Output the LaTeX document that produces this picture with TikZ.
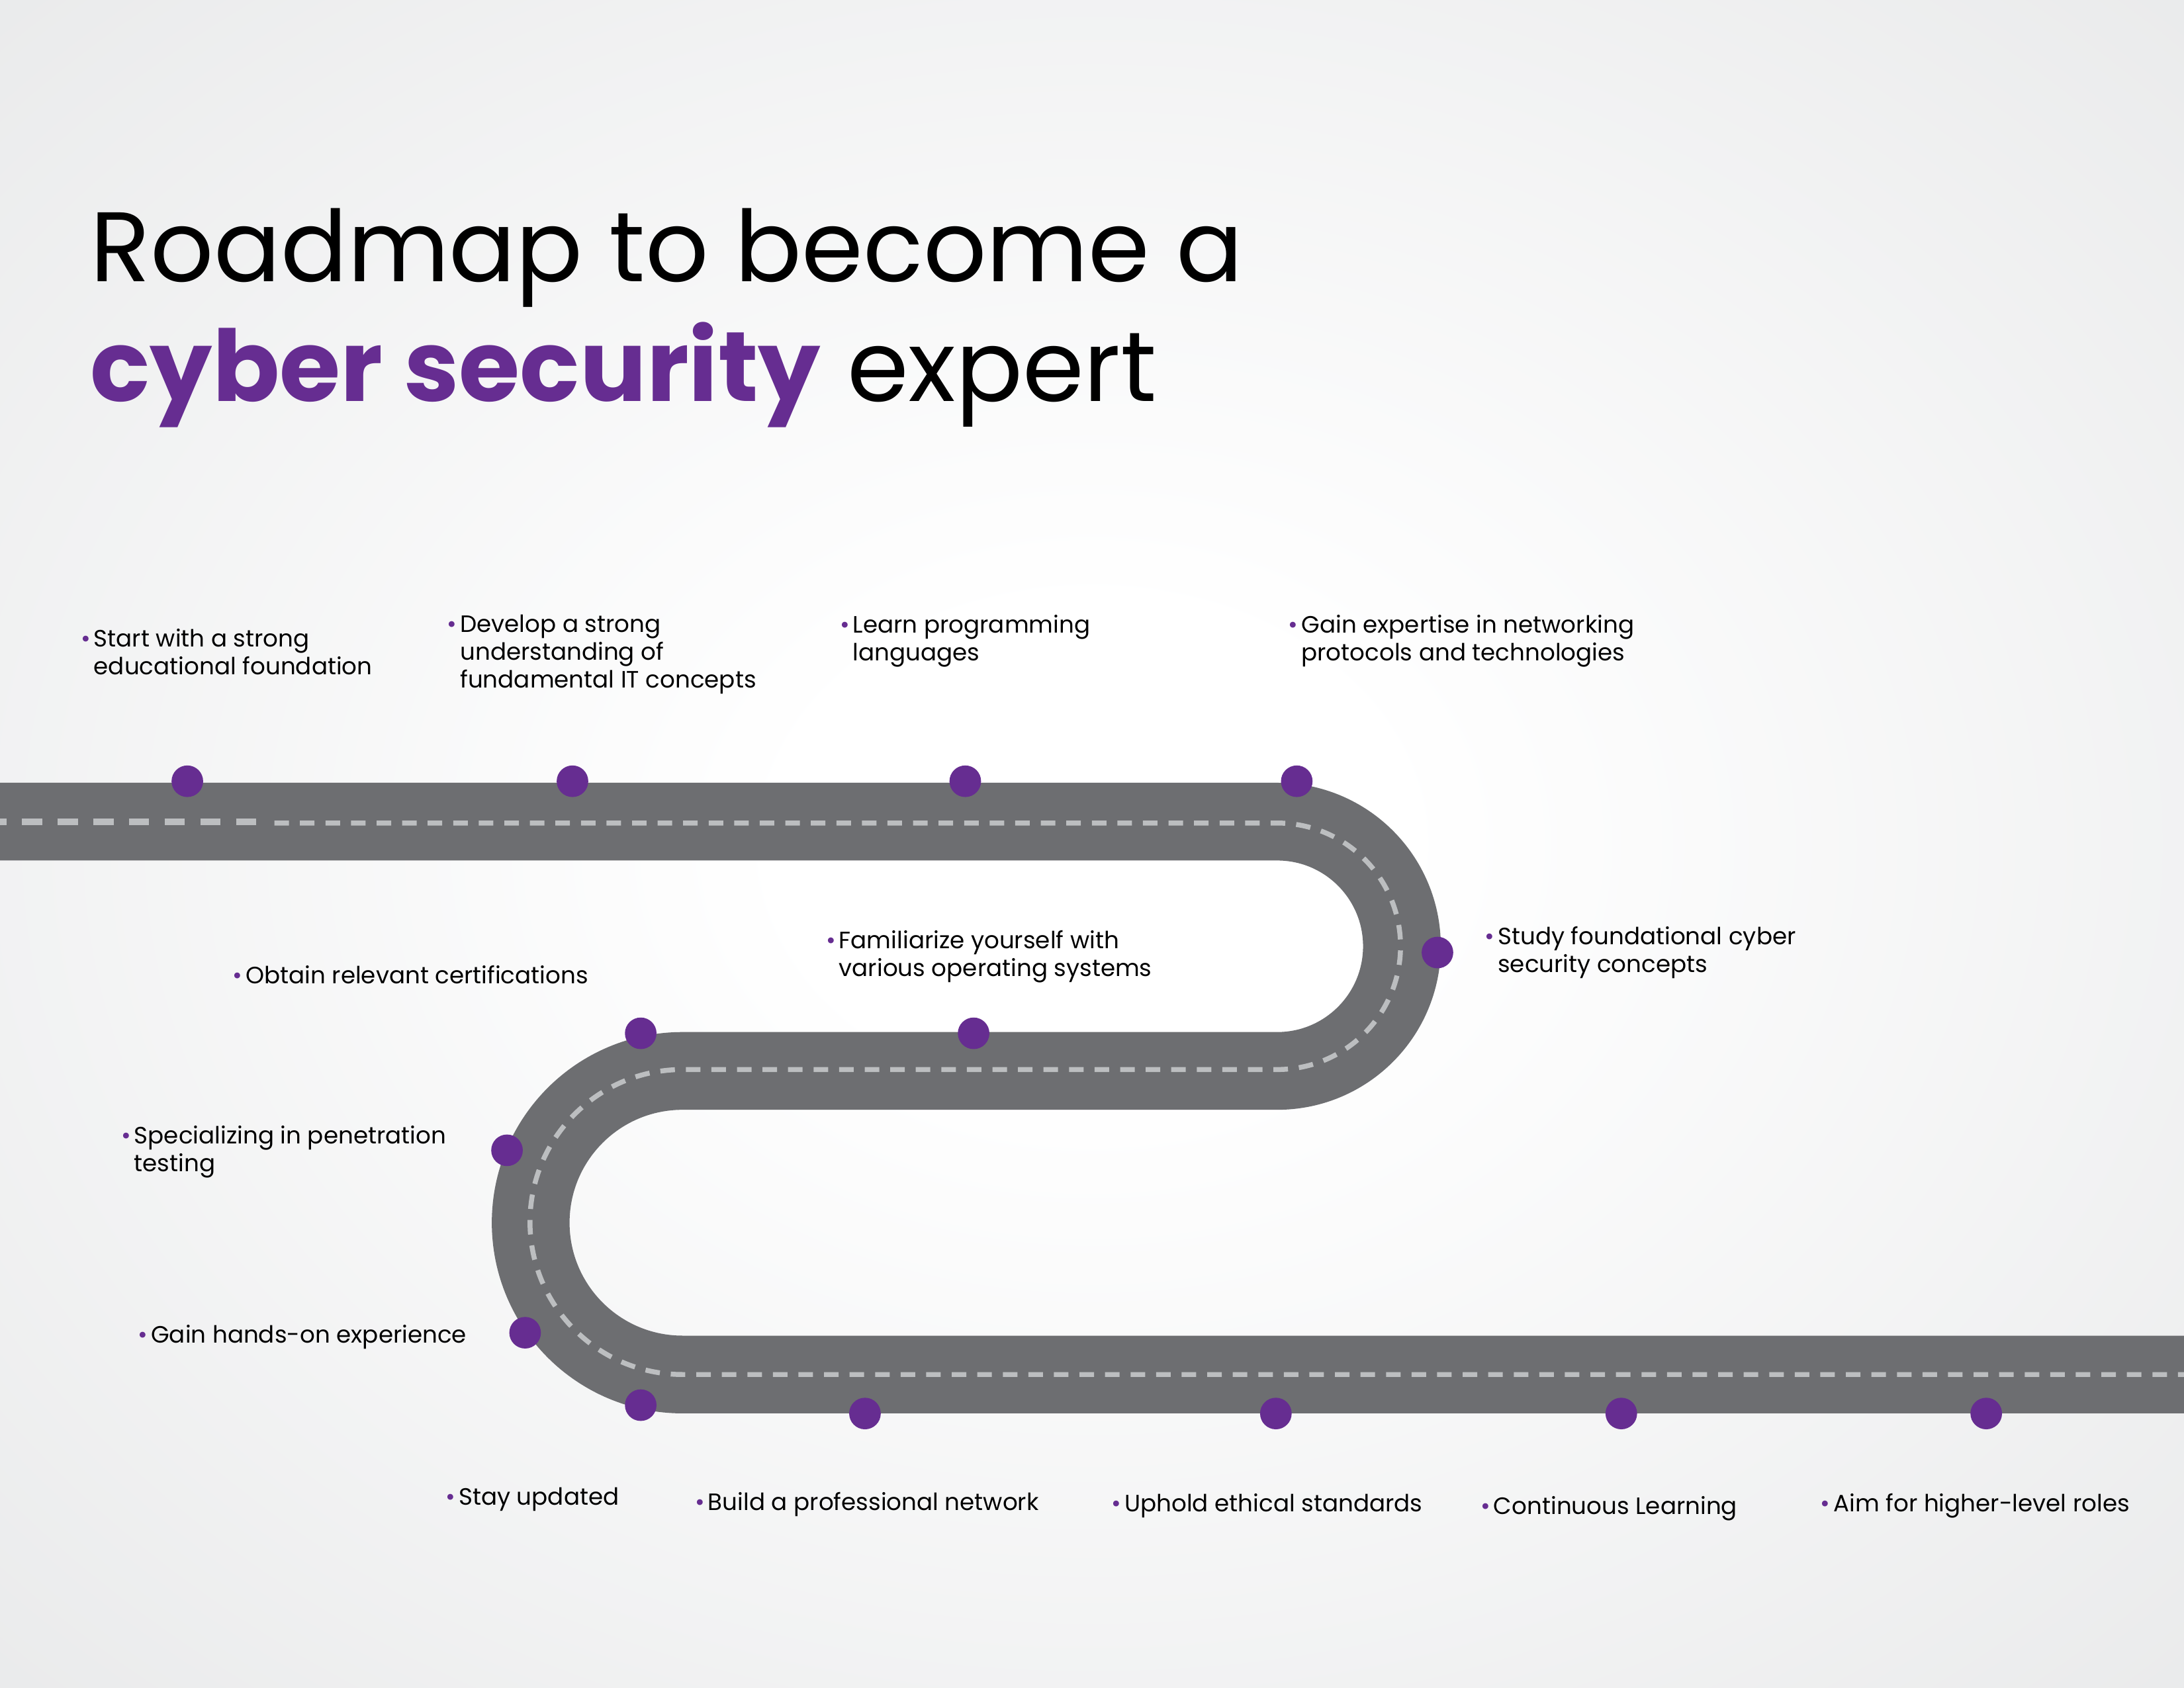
\documentclass[tikz,border=0pt]{standalone}
\usepackage{fontspec}
\setmainfont{Poppins}
\definecolor{roadgray}{HTML}{6D6E71}
\definecolor{dashgray}{HTML}{BCBEC0}
\definecolor{purp}{HTML}{662D91}
\definecolor{bgout}{HTML}{E5E6E7}
\pgfdeclareradialshading{bgshade}{\pgfpoint{0bp}{0bp}}{color(0bp)=(white); color(7bp)=(white); color(42bp)=(bgout); color(100bp)=(bgout)}
\newcommand{\bul}{\llap{\textcolor{purp}{\textbullet}\hspace{1.2pt}}}
\begin{document}
\begin{tikzpicture}[x=0.01782cm, y=-0.01782cm,
  stop/.style={circle, fill=purp, minimum size=11.5pt, inner sep=0pt},
  lbl/.style={anchor=north west, inner sep=0pt, align=left, font=\fontsize{8.6}{10.1}\selectfont},
  road/.style={roadgray, line width=28.3pt},
  lane/.style={dashgray, line width=1.8pt, dash pattern=on 5.3pt off 4pt}]
  \useasboundingbox (0,0) rectangle (1568,1212);
  \clip (0,0) rectangle (1568,1212);
  % background
  \shade[shading=bgshade] (0,0) rectangle (1568,1212);
  % title
  \node[anchor=base west, inner sep=0pt, font=\fontsize{36}{43}\selectfont] (title1) at (64.5,202) {Roadmap to become a};
  \node[anchor=base west, inner sep=0pt, font=\fontsize{36}{43}\selectfont] (title2) at (64.5,288) {\textcolor{purp}{\bfseries cyber security} expert};
  % road
  \draw[road] (-20,590) -- (917,590) arc(-90:90:89.5) -- (490,769) arc(-90:-270:109) -- (1590,987);
  \draw[lane, line width=2.4pt, dash pattern=on 7.4pt off 5.6pt] (-10,590) -- (185,590);
  \draw[lane] (197,591) -- (917,591) arc(-90:90:88.5) -- (490,768) arc(-90:-270:109.5) -- (1590,987);
  % stops
  \node[stop] (s1) at (134.5,561) {};
  \node[stop] (s2) at (411,561) {};
  \node[stop] (s3) at (693,561) {};
  \node[stop] (s4) at (931,561) {};
  \node[stop] (s5) at (1032,684) {};
  \node[stop] (s6) at (699,742) {};
  \node[stop] (s7) at (460,742) {};
  \node[stop] (s8) at (364,826) {};
  \node[stop] (s9) at (377,957) {};
  \node[stop] (s10) at (460,1009) {};
  \node[stop] (s11) at (621,1015) {};
  \node[stop] (s12) at (916,1015) {};
  \node[stop] (s13) at (1164,1015) {};
  \node[stop] (s14) at (1426,1015) {};
  % labels
  \node[lbl] (l1) at (67,451) {\bul Start with a strong\\educational foundation};
  \node[lbl] (l2) at (330,441) {\bul Develop a strong\\understanding of\\fundamental IT concepts};
  \node[lbl] (l3) at (612,441) {\bul Learn programming\\languages};
  \node[lbl] (l4) at (934,441) {\bul Gain expertise in networking\\protocols and technologies};
  \node[lbl] (l5) at (1075,665) {\bul Study foundational cyber\\security concepts};
  \node[lbl] (l6) at (602,668) {\bul Familiarize yourself with\\various operating systems};
  \node[lbl] (l7) at (176,693) {\bul Obtain relevant certifications};
  \node[lbl] (l8) at (96,808) {\bul Specializing in penetration\\testing};
  \node[lbl] (l9) at (108,951) {\bul Gain hands-on experience};
  \node[lbl] (l10) at (329,1068) {\bul Stay updated};
  \node[lbl] (l11) at (508,1071) {\bul Build a professional network};
  \node[lbl] (l12) at (807,1072) {\bul Uphold ethical standards};
  \node[lbl] (l13) at (1072,1074) {\bul Continuous Learning};
  \node[lbl] (l14) at (1316,1072) {\bul Aim for higher-level roles};
\end{tikzpicture}
\end{document}
